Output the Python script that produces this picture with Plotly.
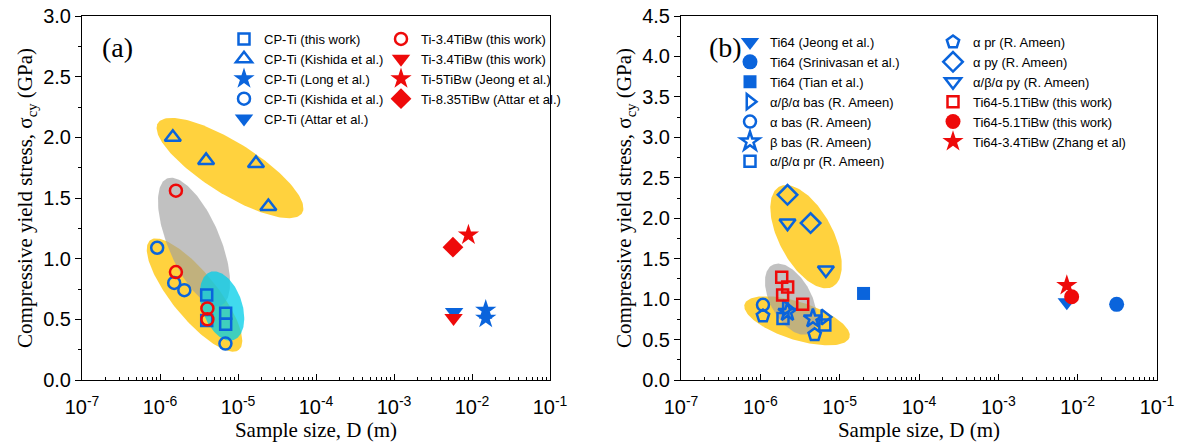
import numpy as np
import plotly.graph_objects as go

BLUE = "#0A64DC"
RED = "#EE0A0A"
YELLOW = "rgb(255,210,62)"
GRAY = "rgba(160,160,160,0.65)"
CYAN = "rgba(0,205,232,0.75)"

# ---------------- Panel (a) data ----------------
a_cp_this_D = [3.97e-6, 3.97e-6, 6.95e-6, 6.95e-6]
a_cp_this_s = [0.70, 0.49, 0.55, 0.46]
a_kish_tri_D = [1.46e-6, 3.9e-6, 1.7e-5, 2.45e-5]
a_kish_tri_s = [2.00, 1.81, 1.785, 1.43]
a_long_D = [1.5e-2, 1.5e-2]
a_long_s = [0.575, 0.51]
a_kish_circ_D = [9.2e-7, 1.52e-6, 2.05e-6, 6.9e-6]
a_kish_circ_s = [1.09, 0.80, 0.74, 0.30]
a_attar_D = [5.9e-3]
a_attar_s = [0.56]
a_ti34_circ_D = [1.6e-6, 1.6e-6, 4.05e-6, 4.05e-6]
a_ti34_circ_s = [1.56, 0.89, 0.59, 0.50]
a_ti34_tri_D = [5.8e-3]
a_ti34_tri_s = [0.51]
a_ti5_D = [9.0e-3]
a_ti5_s = [1.195]
a_ti835_D = [5.7e-3]
a_ti835_s = [1.095]

# ---------------- Panel (b) data ----------------
b_jeong_D = [7.3e-3]
b_jeong_s = [0.96]
b_srini_D = [3.1e-2]
b_srini_s = [0.935]
b_tian_D = [2.0e-5]
b_tian_s = [1.07]
b_aba_bas_D = [2.13e-6, 6.5e-6]
b_aba_bas_s = [0.89, 0.78]
b_a_bas_D = [1.08e-6]
b_a_bas_s = [0.93]
b_b_bas_D = [2.2e-6, 4.6e-6]
b_b_bas_s = [0.84, 0.76]
b_aba_pr_D = [1.93e-6, 6.5e-6]
b_aba_pr_s = [0.76, 0.68]
b_a_pr_D = [1.08e-6, 4.84e-6]
b_a_pr_s = [0.79, 0.56]
b_a_py_D = [2.2e-6, 4.3e-6]
b_a_py_s = [2.29, 1.94]
b_aba_py_D = [2.2e-6, 6.7e-6]
b_aba_py_s = [1.94, 1.36]
b_ti64tibw_sq_D = [1.86e-6, 2.21e-6, 1.91e-6, 3.42e-6]
b_ti64tibw_sq_s = [1.27, 1.15, 1.05, 0.935]
b_ti64tibw_c_D = [8.4e-3]
b_ti64tibw_c_s = [1.03]
b_zhang_D = [7.3e-3]
b_zhang_s = [1.17]

x_tickvals = [1e-7, 1e-6, 1e-5, 1e-4, 1e-3, 1e-2, 1e-1]
x_ticktext = ["10<sup>-7</sup>", "10<sup>-6</sup>", "10<sup>-5</sup>", "10<sup>-4</sup>",
              "10<sup>-3</sup>", "10<sup>-2</sup>", "10<sup>-1</sup>"]
x_minor_vals = [m * 10.0 ** e for e in range(-7, -1) for m in range(2, 10)]

W, H = 1191, 444
# plot-area geometry (pixels)
A_L, A_R = 82, 550
B_L, B_R = 681, 1157
P_T, P_B = 16, 380
a_px_dec = (A_R - A_L) / 6.0
b_px_dec = (B_R - B_L) / 6.0
a_px_unit = (P_B - P_T) / 3.0
b_px_unit = (P_B - P_T) / 4.5

# highlight ellipses: centre (D, sigma), semi-axes (px), angle (deg)
a_ellipses = [
    (7.9e-6, 1.747, 85, 26, -32, YELLOW),
    (2.77e-6, 0.70, 70.5, 22.7, -51, YELLOW),
    (2.73e-6, 1.137, 69, 26, -67, GRAY),
    (6.24e-6, 0.61, 36, 20, -71, CYAN),
]
b_ellipses = [
    (3.77e-6, 1.772, 56.7, 27, -62, YELLOW),
    (2.9e-6, 0.732, 55, 19, -17.6, YELLOW),
    (2.42e-6, 1.0, 38.8, 20.6, -61.7, GRAY),
]


def ellipse(cD, cs, a, b, ang, px_dec, px_unit, n=160):
    t = np.linspace(0, 2 * np.pi, n)
    r = np.radians(ang)
    u, v = a * np.cos(t), b * np.sin(t)
    dx = u * np.cos(r) - v * np.sin(r)
    dy = u * np.sin(r) + v * np.cos(r)
    return 10 ** (np.log10(cD) + dx / px_dec), cs + dy / px_unit


fig = go.Figure()

for (cD, cs, a, b, ang, col) in a_ellipses:
    x, y = ellipse(cD, cs, a, b, ang, a_px_dec, a_px_unit)
    fig.add_trace(go.Scatter(x=x, y=y, mode="lines", fill="toself", fillcolor=col,
                             line=dict(width=0), hoverinfo="skip", showlegend=False,
                             xaxis="x", yaxis="y"))
for (cD, cs, a, b, ang, col) in b_ellipses:
    x, y = ellipse(cD, cs, a, b, ang, b_px_dec, b_px_unit)
    fig.add_trace(go.Scatter(x=x, y=y, mode="lines", fill="toself", fillcolor=col,
                             line=dict(width=0), hoverinfo="skip", showlegend=False,
                             xaxis="x2", yaxis="y2"))


def pts(name, D, s, symbol, color, size, legend, ax, lw=2.5):
    fig.add_trace(go.Scatter(
        x=D, y=s, mode="markers", name=name, legend=legend,
        marker=dict(symbol=symbol, size=size, color=color,
                    line=dict(color=color, width=lw)),
        xaxis=ax[0], yaxis=ax[1]))


AX_A = ("x", "y")
AX_B = ("x2", "y2")

pts("CP-Ti (this work)", a_cp_this_D, a_cp_this_s, "square-open", BLUE, 11, "legend", AX_A)
pts("CP-Ti (Kishida et al.)", a_kish_tri_D, a_kish_tri_s, "triangle-up-open", BLUE, 14, "legend", AX_A)
pts("CP-Ti (Long et al.)", a_long_D, a_long_s, "star", BLUE, 16, "legend", AX_A, 0)
pts("CP-Ti (Kishida et al.)", a_kish_circ_D, a_kish_circ_s, "circle-open", BLUE, 12, "legend", AX_A)
pts("CP-Ti (Attar et al.)", a_attar_D, a_attar_s, "triangle-down", BLUE, 16, "legend", AX_A, 0)
pts("Ti-3.4TiBw (this work)", a_ti34_circ_D, a_ti34_circ_s, "circle-open", RED, 12, "legend2", AX_A)
pts("Ti-3.4TiBw (this work)", a_ti34_tri_D, a_ti34_tri_s, "triangle-down", RED, 16, "legend2", AX_A, 0)
pts("Ti-5TiBw (Jeong et al.)", a_ti5_D, a_ti5_s, "star", RED, 16, "legend2", AX_A, 0)
pts("Ti-8.35TiBw (Attar et al.)", a_ti835_D, a_ti835_s, "diamond", RED, 16, "legend2", AX_A, 0)

pts("Ti64 (Jeong et al.)", b_jeong_D, b_jeong_s, "triangle-down", BLUE, 16, "legend3", AX_B, 0)
pts("Ti64 (Srinivasan et al.)", b_srini_D, b_srini_s, "circle", BLUE, 15, "legend3", AX_B, 0)
pts("Ti64 (Tian et al.)", b_tian_D, b_tian_s, "square", BLUE, 13, "legend3", AX_B, 0)
pts("α/β/α bas (R. Ameen)", b_aba_bas_D, b_aba_bas_s, "triangle-right-open", BLUE, 13, "legend3", AX_B)
pts("α bas (R. Ameen)", b_a_bas_D, b_a_bas_s, "circle-open", BLUE, 12, "legend3", AX_B)
pts("β bas (R. Ameen)", b_b_bas_D, b_b_bas_s, "star-open", BLUE, 14, "legend3", AX_B)
pts("α/β/α pr (R. Ameen)", b_aba_pr_D, b_aba_pr_s, "square-open", BLUE, 11, "legend3", AX_B)
pts("α pr (R. Ameen)", b_a_pr_D, b_a_pr_s, "pentagon-open", BLUE, 13, "legend4", AX_B)
pts("α py (R. Ameen)", b_a_py_D, b_a_py_s, "diamond-open", BLUE, 15, "legend4", AX_B)
pts("α/β/α py (R. Ameen)", b_aba_py_D, b_aba_py_s, "triangle-down-open", BLUE, 14, "legend4", AX_B)
pts("Ti64-5.1TiBw (this work)", b_ti64tibw_sq_D, b_ti64tibw_sq_s, "square-open", RED, 11, "legend4", AX_B)
pts("Ti64-5.1TiBw (this work)", b_ti64tibw_c_D, b_ti64tibw_c_s, "circle", RED, 15, "legend4", AX_B, 0)
pts("Ti64-3.4TiBw (Zhang et al)", b_zhang_D, b_zhang_s, "star", RED, 16, "legend4", AX_B, 0)

# invisible traces so the minor-tick overlay axes are drawn
fig.add_trace(go.Scatter(x=[1e-7], y=[0], mode="markers", marker=dict(opacity=0),
                         showlegend=False, hoverinfo="skip", xaxis="x3", yaxis="y"))
fig.add_trace(go.Scatter(x=[1e-7], y=[0], mode="markers", marker=dict(opacity=0),
                         showlegend=False, hoverinfo="skip", xaxis="x4", yaxis="y2"))

SANS = "Liberation Sans, Arial, sans-serif"
SERIF = "Liberation Serif, Times New Roman, serif"

xcommon = dict(type="log", range=[-7, -1], tickmode="array", tickvals=x_tickvals, ticktext=x_ticktext,
               showline=True, linecolor="black", linewidth=1, mirror=True,
               ticks="inside", ticklen=6, tickcolor="black", showgrid=False, zeroline=False,
               tickfont=dict(family=SANS, size=20, color="black"),
               ticklabelstandoff=9,
               title=dict(text="Sample size, D (m)", font=dict(family=SERIF, size=21, color="black"),
                          standoff=2),
               automargin=False)
xminor = dict(type="log", range=[-7, -1], tickmode="array", tickvals=x_minor_vals,
              showticklabels=False, ticks="inside", ticklen=3, tickcolor="black",
              showline=False, showgrid=False, zeroline=False, side="bottom")
ycommon = dict(showline=True, linecolor="black", linewidth=1, mirror=True,
               ticks="outside", ticklen=6, tickcolor="black", showgrid=False, zeroline=False,
               dtick=0.5, tickformat=".1f",
               minor=dict(ticks="outside", ticklen=3, dtick=0.25, tickcolor="black", showgrid=False),
               tickfont=dict(family=SANS, size=20, color="black"),
               title=dict(text="Compressive yield stress, σ<sub>cy</sub> (GPa)",
                          font=dict(family=SERIF, size=21, color="black"), standoff=4),
               automargin=False)

ydom = [1 - P_B / H, 1 - P_T / H]

fig.update_layout(
    width=W, height=H, autosize=False,
    margin=dict(l=0, r=0, t=0, b=0),
    paper_bgcolor="white", plot_bgcolor="white",
    xaxis=dict(domain=[A_L / W, A_R / W], anchor="y", **xcommon),
    yaxis=dict(domain=ydom, anchor="x", range=[0, 3], **ycommon),
    xaxis2=dict(domain=[B_L / W, B_R / W], anchor="y2", **xcommon),
    yaxis2=dict(domain=ydom, anchor="x2", range=[0, 4.5], **ycommon),
    xaxis3=dict(overlaying="x", anchor="y", **xminor),
    xaxis4=dict(overlaying="x2", anchor="y2", **xminor),
    showlegend=True,
)

leg_common = dict(bgcolor="rgba(0,0,0,0)", borderwidth=0, xanchor="left", yanchor="top",
                  font=dict(family=SANS, size=13, color="black"), itemclick=False,
                  itemdoubleclick=False, tracegroupgap=0)
fig.update_layout(
    legend=dict(x=(246 - 22) / W, y=1 - 24 / H, **leg_common),
    legend2=dict(x=(403 - 22) / W, y=1 - 24 / H, **leg_common),
    legend3=dict(x=(752 - 22) / W, y=1 - 27 / H, **leg_common),
    legend4=dict(x=(955 - 22) / W, y=1 - 27 / H, **leg_common),
)

fig.add_annotation(text="(a)", x=(A_L + 35) / W, y=1 - 47 / H, xref="paper", yref="paper",
                   xanchor="center", yanchor="middle",
                   showarrow=False, font=dict(family=SERIF, size=28, color="black"))
fig.add_annotation(text="(b)", x=(B_L + 44) / W, y=1 - 47 / H, xref="paper", yref="paper",
                   xanchor="center", yanchor="middle",
                   showarrow=False, font=dict(family=SERIF, size=28, color="black"))

fig.write_html("out.html")
